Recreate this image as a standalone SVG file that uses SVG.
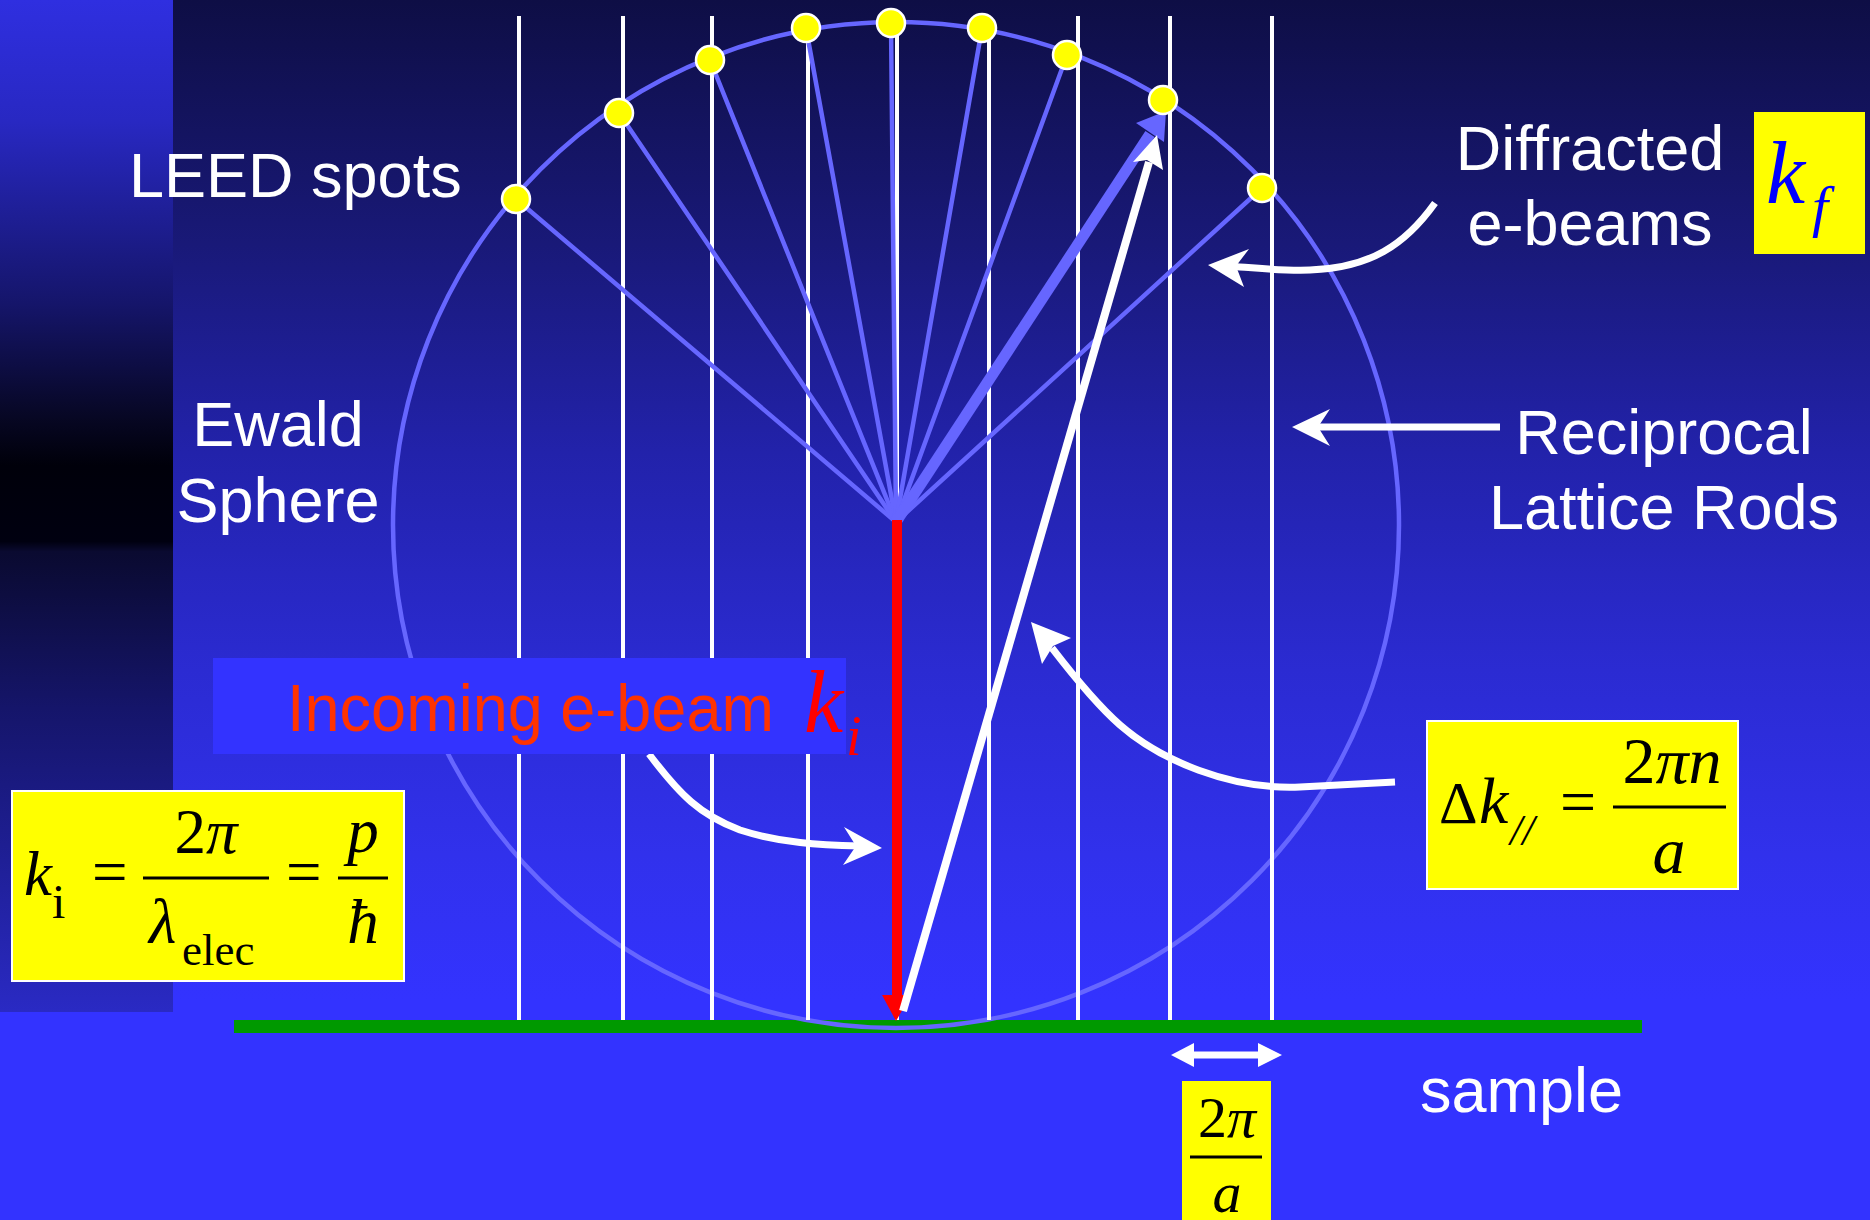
<svg xmlns="http://www.w3.org/2000/svg" width="1870" height="1220" viewBox="0 0 1870 1220">
<defs>
<linearGradient id="bg" x1="0" y1="0" x2="0" y2="1220" gradientUnits="userSpaceOnUse">
<stop offset="0" stop-color="#0e0e45"/>
<stop offset="0.2" stop-color="#191978"/>
<stop offset="0.37" stop-color="#2222aa"/>
<stop offset="0.55" stop-color="#2b2bd2"/>
<stop offset="0.7" stop-color="#3131ec"/>
<stop offset="0.82" stop-color="#3333ff"/>
<stop offset="1" stop-color="#3333ff"/>
</linearGradient>
<linearGradient id="strip" x1="0" y1="0" x2="0" y2="1012" gradientUnits="userSpaceOnUse">
<stop offset="0" stop-color="#2f2fe0"/>
<stop offset="0.12" stop-color="#2828c2"/>
<stop offset="0.3" stop-color="#15156a"/>
<stop offset="0.42" stop-color="#06061f"/>
<stop offset="0.46" stop-color="#00000a"/>
<stop offset="0.535" stop-color="#000010"/>
<stop offset="0.545" stop-color="#0a0a30"/>
<stop offset="0.7" stop-color="#15156a"/>
<stop offset="0.85" stop-color="#1f1f96"/>
<stop offset="1" stop-color="#2a2ac4"/>
</linearGradient>
<style>
.lbl{font-family:"Liberation Sans",Arial,sans-serif;font-size:63px;fill:#ffffff}
.m{font-family:"Liberation Serif","Times New Roman",serif;fill:#000000}
.it{font-style:italic}
.rod{stroke:#ffffff;stroke-width:4}
.ray{stroke:#6666ff;stroke-width:4.5;stroke-linecap:round}
.spot{fill:#ffff00;stroke:#ffffff;stroke-width:2.5}
.wline{fill:none;stroke:#ffffff;stroke-width:7}
.yb{fill:#ffff00}
.fr{stroke:#000000;stroke-width:3}
</style>
</defs>
<rect x="0" y="0" width="1870" height="1220" fill="url(#bg)"/>
<rect x="0" y="0" width="173" height="1012" fill="url(#strip)"/>
<g id="sample">
<rect x="234" y="1020" width="1408" height="13" fill="#009900"/>
<text class="lbl" x="1420" y="1112">sample</text>
</g>
<g id="ewald-sphere">
<circle cx="896" cy="525" r="503" fill="none" stroke="#6666ff" stroke-width="4.5"/>
<text class="lbl" x="278" y="446" text-anchor="middle">Ewald</text>
<text class="lbl" x="278" y="522" text-anchor="middle">Sphere</text>
</g>
<g id="rods">
<line class="rod" x1="519" y1="16" x2="519" y2="1020"/>
<line class="rod" x1="623" y1="16" x2="623" y2="1020"/>
<line class="rod" x1="712" y1="16" x2="712" y2="1020"/>
<line class="rod" x1="808" y1="16" x2="808" y2="1020"/>
<line class="rod" x1="897" y1="16" x2="897" y2="1020"/>
<line class="rod" x1="989" y1="16" x2="989" y2="1020"/>
<line class="rod" x1="1078" y1="16" x2="1078" y2="1020"/>
<line class="rod" x1="1170" y1="16" x2="1170" y2="1020"/>
<line class="rod" x1="1272" y1="16" x2="1272" y2="1020"/>
</g>
<g id="connectors">
<line class="ray" x1="896" y1="522" x2="516" y2="199"/>
<line class="ray" x1="896" y1="522" x2="619" y2="113"/>
<line class="ray" x1="896" y1="522" x2="710" y2="60"/>
<line class="ray" x1="896" y1="522" x2="806" y2="28"/>
<line class="ray" x1="896" y1="522" x2="891" y2="23"/>
<line class="ray" x1="896" y1="522" x2="982" y2="28"/>
<line class="ray" x1="896" y1="522" x2="1067" y2="55"/>
<line class="ray" x1="896" y1="522" x2="1262" y2="188"/>
<line x1="896" y1="522" x2="1150" y2="134" stroke="#6666ff" stroke-width="11"/>
<polygon points="1166,111 1136,123 1164,142" fill="#6666ff"/>
<line x1="897" y1="520" x2="897" y2="996" stroke="#ff0000" stroke-width="10"/>
<polygon points="882,995 911,995 896,1021" fill="#ff0000"/>
<line x1="903" y1="1011" x2="1149" y2="162" stroke="#ffffff" stroke-width="8"/>
<polygon points="1157,135 1133,162 1147,160 1163,170" fill="#ffffff"/>
<path class="wline" d="M1435,203 C1405,245 1370,268 1310,270 C1280,271 1255,268 1228,266"/>
<polygon points="1208,265 1249,249 1236,266 1244,287" fill="#ffffff"/>
<line class="wline" x1="1500" y1="427" x2="1316" y2="427" stroke-width="6"/>
<polygon points="1292,427 1330,409 1318,427 1330,446" fill="#ffffff"/>
<path class="wline" d="M1395,782 L1300,787 C1230,790 1160,760 1120,725 C1095,703 1072,674 1052,648"/>
<polygon points="1031,622 1071,638 1053,646 1042,664" fill="#ffffff"/>
<path class="wline" d="M649,754 C680,795 700,815 740,830 C780,843 820,845 860,846"/>
<polygon points="882,848 844,827 856,846 843,865" fill="#ffffff"/>
<line class="wline" x1="1186" y1="1055" x2="1266" y2="1055" stroke-width="7"/>
<polygon points="1171,1055 1194,1043 1194,1067" fill="#ffffff"/>
<polygon points="1282,1055 1258,1043 1258,1067" fill="#ffffff"/>
</g>
<g id="leed-spots">
<circle class="spot" cx="516" cy="199" r="14"/>
<circle class="spot" cx="619" cy="113" r="14"/>
<circle class="spot" cx="710" cy="60" r="14"/>
<circle class="spot" cx="806" cy="28" r="14"/>
<circle class="spot" cx="891" cy="23" r="14"/>
<circle class="spot" cx="982" cy="28" r="14"/>
<circle class="spot" cx="1067" cy="55" r="14"/>
<circle class="spot" cx="1163" cy="100" r="14"/>
<circle class="spot" cx="1262" cy="188" r="14"/>
<text class="lbl" x="129" y="197" font-size="64">LEED spots</text>
</g>
<g id="diffracted-label">
<text class="lbl" x="1590" y="170" text-anchor="middle">Diffracted</text>
<text class="lbl" x="1590" y="245" text-anchor="middle">e-beams</text>
</g>
<g id="kf-box">
<rect x="1754" y="112" width="111" height="142" class="yb"/>
<text class="m it" x="1766" y="203" font-size="88" style="fill:#0000ff">k</text>
<text class="m it" x="1812" y="226" font-size="58" style="fill:#0000ff">f</text>
</g>
<g id="reciprocal-label">
<text class="lbl" x="1664" y="454" text-anchor="middle">Reciprocal</text>
<text class="lbl" x="1664" y="529" text-anchor="middle">Lattice Rods</text>
</g>
<g id="incoming-label">
<rect x="213" y="658" width="633" height="96" fill="#3333ff"/>
<text x="287" y="731" font-family="'Liberation Sans',Arial,sans-serif" font-size="67" fill="#ff3300" textLength="487" lengthAdjust="spacingAndGlyphs">Incoming e-beam</text>
<text class="m it" x="804" y="732" font-size="88" style="fill:#ff0000">k</text>
<text class="m it" x="846" y="755" font-size="56" style="fill:#ff0000">i</text>
</g>
<g id="ki-formula">
<rect x="12" y="791" width="392" height="190" class="yb" stroke="#ffffff" stroke-width="2"/>
<text class="m it" x="24" y="895" font-size="63">k</text>
<text class="m" x="52" y="918" font-size="48">i</text>
<text class="m" x="92" y="893" font-size="63">=</text>
<line class="fr" x1="143" y1="878" x2="269" y2="878"/>
<text class="m" x="206" y="853" font-size="63" text-anchor="middle">2<tspan class="it">π</tspan></text>
<text class="m it" x="149" y="943" font-size="63">λ</text>
<text class="m" x="182" y="965" font-size="45">elec</text>
<text class="m" x="286" y="893" font-size="63">=</text>
<line class="fr" x1="338" y1="878" x2="388" y2="878"/>
<text class="m it" x="363" y="852" font-size="63" text-anchor="middle">p</text>
<text class="m it" x="363" y="943" font-size="63" text-anchor="middle">ħ</text>
</g>
<g id="dk-formula">
<rect x="1427" y="721" width="311" height="168" class="yb" stroke="#ffffff" stroke-width="2"/>
<text class="m" x="1439" y="823" font-size="60">Δ</text>
<text class="m it" x="1479" y="823" font-size="66">k</text>
<text class="m it" x="1510" y="845" font-size="44">//</text>
<text class="m" x="1560" y="823" font-size="64">=</text>
<line class="fr" x1="1613" y1="807" x2="1726" y2="807"/>
<text class="m" x="1672" y="783" font-size="66" text-anchor="middle">2<tspan class="it">πn</tspan></text>
<text class="m it" x="1669" y="873" font-size="66" text-anchor="middle">a</text>
</g>
<g id="spacing-formula">
<rect x="1182" y="1081" width="89" height="145" class="yb"/>
<line class="fr" x1="1190" y1="1157" x2="1262" y2="1157"/>
<text class="m" x="1227" y="1137" font-size="58" text-anchor="middle">2<tspan class="it">π</tspan></text>
<text class="m it" x="1227" y="1212" font-size="58" text-anchor="middle">a</text>
</g>
</svg>
